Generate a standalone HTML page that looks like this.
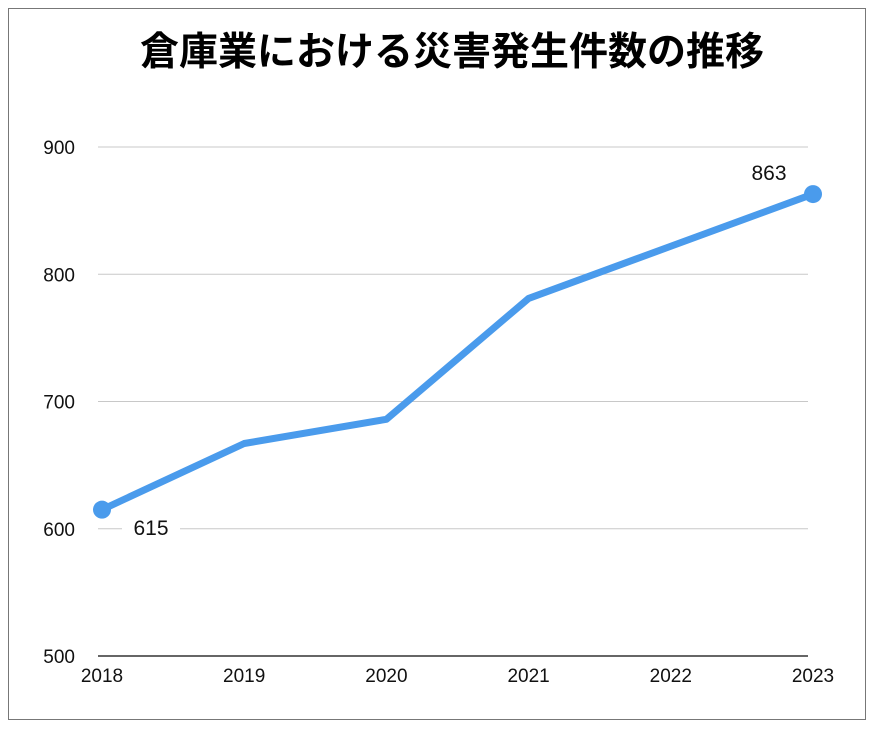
<!DOCTYPE html>
<html><head><meta charset="utf-8"><style>
body{margin:0;background:#fff;}
svg{display:block;font-family:"Liberation Sans","Noto Sans CJK JP",sans-serif;}
</style></head><body>
<svg width="874" height="729">
<rect x="8.5" y="8.5" width="857" height="711" fill="#fff" stroke="#777" stroke-width="1"/>
<text x="452" y="65" text-anchor="middle" font-size="39" font-weight="bold" font-family="'Noto Sans CJK JP',sans-serif">倉庫業における災害発生件数の推移</text>
<g id="grid"></g><g id="plot"></g>
</svg>
<script>
const years=["2018","2019","2020","2021","2022","2023"];
const counts=[615,667,686,781,822,863];
const yTicks=[500,600,700,800,900];
const ns="http://www.w3.org/2000/svg";
const x0=102,x1=813,gx0=98,gx1=808;
const xs=i=>x0+i*(x1-x0)/(years.length-1);
const ys=v=>656-(v-500)*(656-147)/400;
const grid=document.getElementById('grid'),plot=document.getElementById('plot');
function mk(tag,attrs,parent){const e=document.createElementNS(ns,tag);for(const k in attrs)e.setAttribute(k,attrs[k]);parent.appendChild(e);return e;}
yTicks.forEach(v=>{
 const l=mk('line',{x1:gx0,x2:gx1,y1:ys(v),y2:ys(v),stroke:v===500?'#333':'#c8c8c8','stroke-width':v===500?1.5:1},grid);
 
 
 const t=mk('text',{x:75,y:ys(v)+7,'text-anchor':'end','font-size':19,fill:'#111'},grid);
 t.textContent=v;
 
 
});
years.forEach((y,i)=>{
 const t=mk('text',{x:xs(i),y:682,'text-anchor':'middle','font-size':19,fill:'#111'},grid);
 t.textContent=y;
 
 
});
const pl=mk('polyline',{points:counts.map((v,i)=>xs(i)+','+ys(v)).join(' '),fill:'none',stroke:'#4a9bec','stroke-width':7,'stroke-linejoin':'round'},plot);


[0,counts.length-1].forEach(i=>{
 const c=mk('circle',{cx:xs(i),cy:ys(counts[i]),r:9,fill:'#4a9bec'},plot);
 
 
});
const bg=mk('rect',{x:122,y:512,width:58,height:26,fill:'#fff'},plot);


const l1=mk('text',{x:151,y:535,'text-anchor':'middle','font-size':21,fill:'#111'},plot);
l1.textContent=counts[0];


const l2=mk('text',{x:769,y:180,'text-anchor':'middle','font-size':21,fill:'#111'},plot);
l2.textContent=counts[counts.length-1];


</script>
</body></html>
